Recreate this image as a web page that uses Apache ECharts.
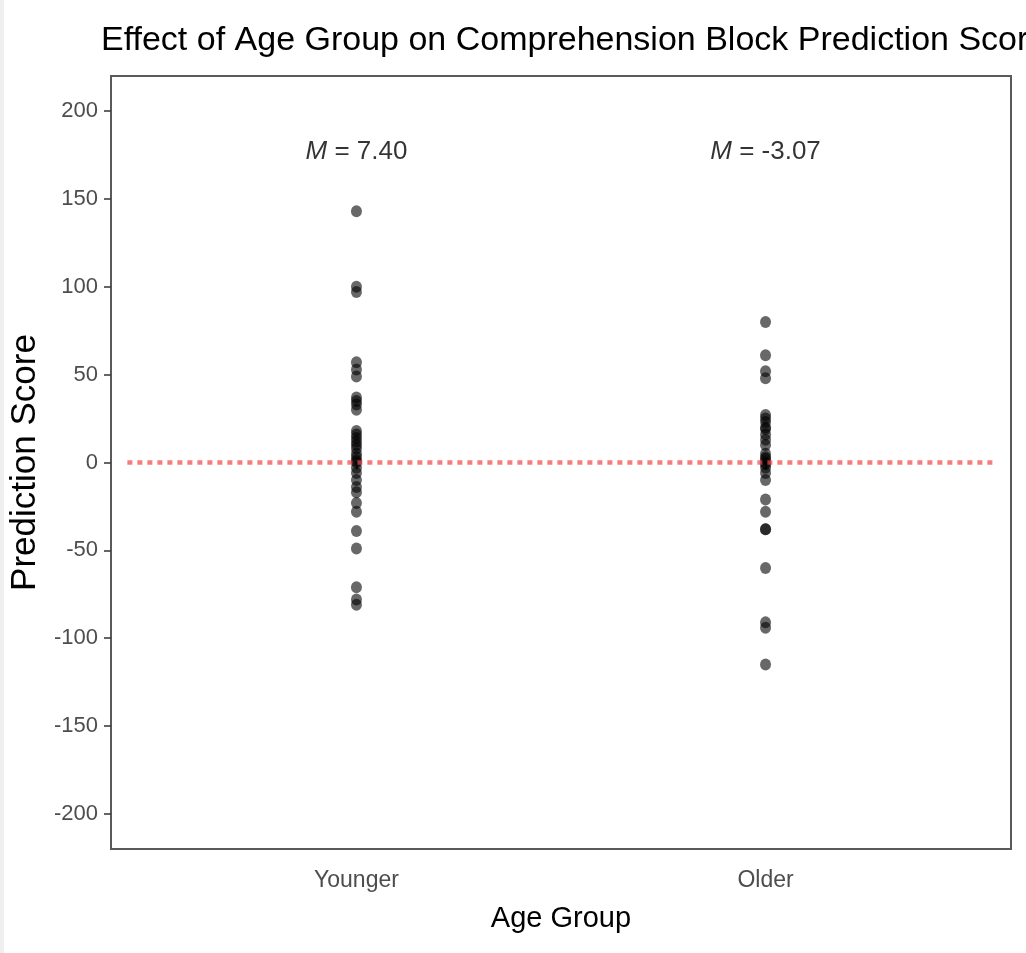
<!DOCTYPE html>
<html>
<head>
<meta charset="utf-8">
<script src="https://cdn.jsdelivr.net/npm/echarts@6/dist/echarts.min.js"></script>
<style>
html,body{margin:0;padding:0;background:#fff;}
#chart{width:1026px;height:953px;}
</style>
</head>
<body>
<div id="chart"></div>
<script>
const categories = ["Younger", "Older"];
const youngerScores = [143, 100, 97, 57, 53, 49, 37, 35, 33, 30,
  18, 16, 14, 12, 10, 8, 5, 3, 1, 0, -3, -6, -10, -14, -17,
  -23, -28, -39, -49, -71, -78, -81];
const olderScores = [80, 61, 52, 48, 27, 25, 23, 20, 19, 16, 13, 10,
  5, 3, 2, 0, -1, -3, -6, -10, -21, -28, -38, -38, -60, -91, -94, -115];
const meanLabels = ["7.40", "-3.07"];
const yTicks = [-200, -150, -100, -50, 0, 50, 100, 150, 200];
const referenceLine = 0;

const font = '"Liberation Sans", Arial, sans-serif';
const groups = [youngerScores, olderScores];
const pointData = [];
groups.forEach((arr, gi) => arr.forEach(v => pointData.push([gi + 1, v])));

const chart = echarts.init(document.getElementById('chart'));
chart.setOption({
  animation: false,
  backgroundColor: '#ffffff',
  graphic: [{type: 'rect', left: 0, top: 0, shape: {width: 4, height: 953}, style: {fill: '#efefef'}}],
  title: {
    text: 'Effect of Age Group on Comprehension Block Prediction Score',
    left: 96, top: 19,
    textStyle: {fontFamily: font, fontSize: 34, fontWeight: 'normal', color: '#000'}
  },
  grid: {left: 111, right: 15, top: 76, bottom: 104, show: true, borderColor: '#5a5a5a', borderWidth: 2, backgroundColor: '#fff'},
  xAxis: {
    type: 'value', min: 0.4, max: 2.6,
    name: 'Age Group', nameLocation: 'middle', nameGap: 55,
    nameTextStyle: {fontFamily: font, fontSize: 29, color: '#000'},
    axisLine: {show: false},
    splitLine: {show: false},
    axisTick: {show: true, length: 7, customValues: [1, 2], lineStyle: {color: '#333', width: 1.5}},
    axisLabel: {customValues: [1, 2], formatter: v => categories[Math.round(v) - 1] || '',
      fontFamily: font, fontSize: 23, color: '#4d4d4d', margin: 20}
  },
  yAxis: {
    type: 'value', min: -220, max: 220,
    name: 'Prediction Score', nameLocation: 'middle', nameGap: 66, nameRotate: 90,
    nameTextStyle: {fontFamily: font, fontSize: 35, color: '#000'},
    axisLine: {show: false},
    splitLine: {show: false},
    axisTick: {show: true, length: 7, customValues: yTicks, lineStyle: {color: '#333', width: 1.5}},
    axisLabel: {customValues: yTicks, fontFamily: font, fontSize: 22, color: '#4d4d4d', margin: 13}
  },
  series: [
    {
      type: 'scatter', data: pointData, symbolSize: [11, 12], z: 2,
      itemStyle: {color: 'rgba(0,0,0,0.74)'}
    },
    {
      type: 'line', data: [[0.44, referenceLine], [2.56, referenceLine]], symbol: 'none', z: 3,
      lineStyle: {color: 'rgba(240,70,70,0.7)', width: 4.5, type: [5, 5]}
    },
    {
      type: 'scatter', symbolSize: 0, z: 4,
      data: meanLabels.map((m, i) => ({value: [i + 1, 177], label: {formatter: '{i|M} = ' + m}})),
      label: {
        show: true, position: 'inside',
        fontFamily: font, fontSize: 26, color: '#000',
        rich: {i: {fontStyle: 'italic', fontFamily: font, fontSize: 26, color: '#000'}}
      }
    }
  ]
});
</script>
</body>
</html>
